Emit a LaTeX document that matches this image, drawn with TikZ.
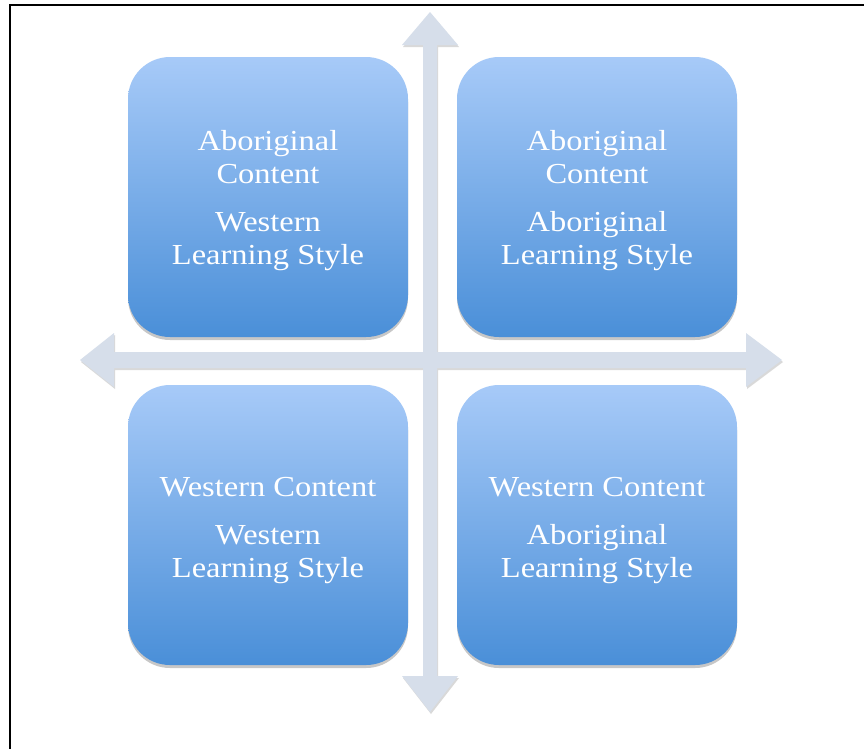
\documentclass[tikz,border=0pt]{standalone}
\usepackage{fontspec}
\setmainfont[FakeStretch=1.12]{Liberation Serif}
\usetikzlibrary{shadows}
\definecolor{boxtop}{HTML}{A7CAF8}
\definecolor{boxbot}{HTML}{4A8FD8}
\definecolor{arrowfill}{HTML}{D6DEEA}
\begin{document}
\begin{tikzpicture}[x=1pt,y=-1pt,
  quad/.style={rectangle,rounded corners=42pt,minimum width=280pt,minimum height=280pt,
    top color=boxtop,bottom color=boxbot,draw=none,
    drop shadow={shadow xshift=0pt,shadow yshift=-3pt,fill=black,opacity=0.22}},
  quadtext/.style={text=white,align=center,font=\fontsize{29}{33}\selectfont},
  arrowbody/.style={fill=arrowfill,draw=none,
    drop shadow={shadow xshift=1pt,shadow yshift=-2pt,fill=black,opacity=0.15}}
]
\useasboundingbox (0,0) rectangle (864,748);
\fill[white] (0,0) rectangle (864,748);
% frame
\draw[line width=2.5pt,black] (10,750) -- (10,5) -- (866,5);
% cross of double arrows
\path[arrowbody] (430,12) -- (458,45) -- (437,45) -- (437,352) -- (746,352) -- (746,333)
  -- (782,360) -- (746,387) -- (746,368) -- (437,368) -- (437,676) -- (458,676)
  -- (430,712) -- (402,676) -- (423,676) -- (423,368) -- (114,368) -- (114,387)
  -- (80,360) -- (114,333) -- (114,352) -- (423,352) -- (423,45) -- (402,45) -- cycle;
% boxes
\node[quad] (tl) at (268,197) {};
\node[quad] (tr) at (597,197) {};
\node[quad] (bl) at (268,525) {};
\node[quad] (br) at (597,525) {};
\node[quadtext] (tlt) at ([yshift=-3.5pt]tl.center) {Aboriginal\\Content\\[15pt]Western\\Learning Style};
\node[quadtext] (trt) at ([yshift=-3.5pt]tr.center) {Aboriginal\\Content\\[15pt]Aboriginal\\Learning Style};
\node[quadtext] (blt) at ([yshift=-6pt]bl.center) {Western Content\\[15pt]Western\\Learning Style};
\node[quadtext] (brt) at ([yshift=-6pt]br.center) {Western Content\\[15pt]Aboriginal\\Learning Style};
\end{tikzpicture}
\end{document}
